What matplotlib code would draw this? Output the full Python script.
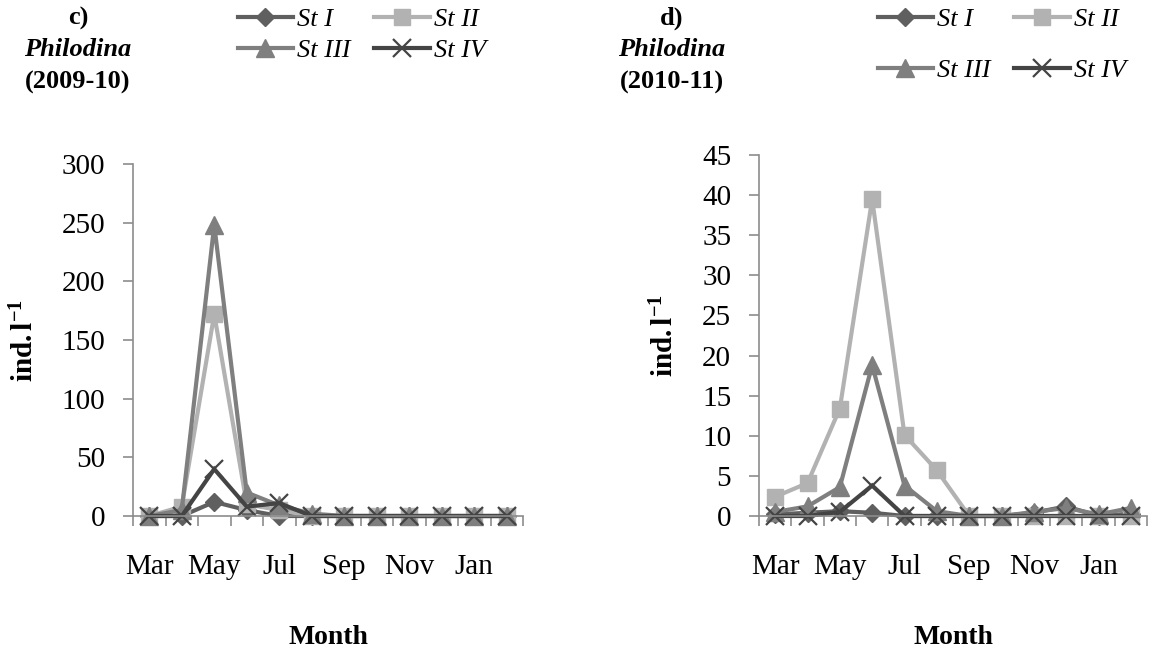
import matplotlib
matplotlib.use("Agg")
import matplotlib.pyplot as plt
import numpy as np

plt.rcParams['font.family'] = ['Liberation Serif', 'DejaVu Serif']
plt.rcParams['mathtext.fontset'] = 'custom'
plt.rcParams['mathtext.rm'] = 'Liberation Serif'
plt.rcParams['mathtext.bf'] = 'Liberation Serif:bold'
plt.rcParams['mathtext.it'] = 'Liberation Serif:italic'

months = ["Mar", "Apr", "May", "Jun", "Jul", "Aug",
          "Sep", "Oct", "Nov", "Dec", "Jan", "Feb"]
stations = ["St I", "St II", "St III", "St IV"]

# Philodina densities (ind./l), 2009-10
c_st1 = [0, 0, 12, 5, 0, 0, 0, 0, 0, 0, 0, 0]
c_st2 = [0, 8, 172, 10, 5, 0, 0, 0, 0, 0, 0, 0]
c_st3 = [0, 5, 248, 20, 9, 2, 0, 0, 0, 0, 0, 0]
c_st4 = [0, 0, 40, 8, 11, 0, 0, 0, 0, 0, 0, 0]

# Philodina densities (ind./l), 2010-11
d_st1 = [0.2, 0.4, 0.6, 0.4, 0, 0, 0, 0, 0.4, 1.2, 0, 0.3]
d_st2 = [2.4, 4.1, 13.4, 39.5, 10.1, 5.7, 0, 0, 0, 0, 0, 0]
d_st3 = [0.5, 1.2, 3.6, 18.8, 3.8, 0.6, 0, 0, 0.5, 1.0, 0.2, 1.0]
d_st4 = [0, 0, 0.5, 3.8, 0, 0, 0, 0, 0, 0, 0, 0]

styles = [
    dict(color="#5f5f5f", marker="D", markersize=9.5),
    dict(color="#b2b2b2", marker="s", markersize=12),
    dict(color="#7f7f7f", marker="^", markersize=12.5),
    dict(color="#444444", marker="x", markersize=13, markeredgewidth=1.6),
]

W, H = 1173, 655
fig = plt.figure(figsize=(W / 100, H / 100), dpi=100)


def px_axes(x0, x1, y0, y1):
    return fig.add_axes([x0 / W, 1 - y1 / H, (x1 - x0) / W, (y1 - y0) / H])


def draw_panel(ax, series, ymax, ystep, leg_anchor, leg_space, top_px):
    x = np.arange(len(months))
    handles = []
    for vals, st, name in zip(series, styles, stations):
        h, = ax.plot(x, vals, lw=3, label=name, solid_joinstyle="miter",
                     clip_on=False, **st)
        handles.append(h)
    ax.set_xlim(-0.5, len(months) - 0.5)
    ax.set_ylim(0, ymax)
    ax.set_yticks(np.arange(0, ymax + ystep / 2, ystep))
    ax.set_xticks(x[::2])
    ax.set_xticklabels(months[::2])
    ax.set_xticks(np.arange(-0.5, len(months)), minor=True)
    ax.tick_params(axis="x", which="major", length=0, pad=27, labelsize=21)
    ax.tick_params(axis="x", which="minor", length=7, color="#8c8c8c", width=1.2)
    ax.tick_params(axis="y", length=7, color="#8c8c8c", width=1.2,
                   labelsize=21, pad=13)
    for s in ("top", "right"):
        ax.spines[s].set_visible(False)
    for s in ("left", "bottom"):
        ax.spines[s].set_color("#8c8c8c")
        ax.spines[s].set_linewidth(1.2)
    ax.set_xlabel("Month", fontsize=20, fontweight="bold")
    ax.xaxis.label.set_va("center")
    ax.xaxis.set_label_coords(0.5, (516 - 638) / (516 - top_px))
    ax.set_ylabel(r"$\mathbf{ind.l^{-1}}$", fontsize=21, labelpad=16)
    # row-wise order: St I, St II / St III, St IV
    order = [0, 2, 1, 3]
    ax.legend(handles=[handles[i] for i in order], ncol=2, loc="center left",
              bbox_to_anchor=leg_anchor, bbox_transform=fig.transFigure,
              frameon=False, handlelength=2.1, handletextpad=0.15,
              columnspacing=0.9, labelspacing=leg_space,
              prop=dict(family="Liberation Serif", style="italic", size=19))


ax_c = px_axes(133, 523, 164, 516)
draw_panel(ax_c, [c_st1, c_st2, c_st3, c_st4], 300, 50,
           (214 / W, 1 - 35 / H), 0.3, 164)
ax_d = px_axes(759, 1147, 155, 516)
draw_panel(ax_d, [d_st1, d_st2, d_st3, d_st4], 45, 5,
           (854 / W, 1 - 45 / H), 1.05, 155)

# panel headings
for xc, letter, years in [(78, "c)", "(2009-10)"), (672, "d)", "(2010-11)")]:
    fig.text(xc / W, 1 - 18 / H, letter, ha="center", va="center",
             fontsize=19, fontweight="bold")
    fig.text(xc / W, 1 - 50 / H, "Philodina", ha="center", va="center",
             fontsize=19, fontweight="bold", style="italic")
    fig.text(xc / W, 1 - 82 / H, years, ha="center", va="center",
             fontsize=19, fontweight="bold")

fig.savefig("out.png", dpi=100)
